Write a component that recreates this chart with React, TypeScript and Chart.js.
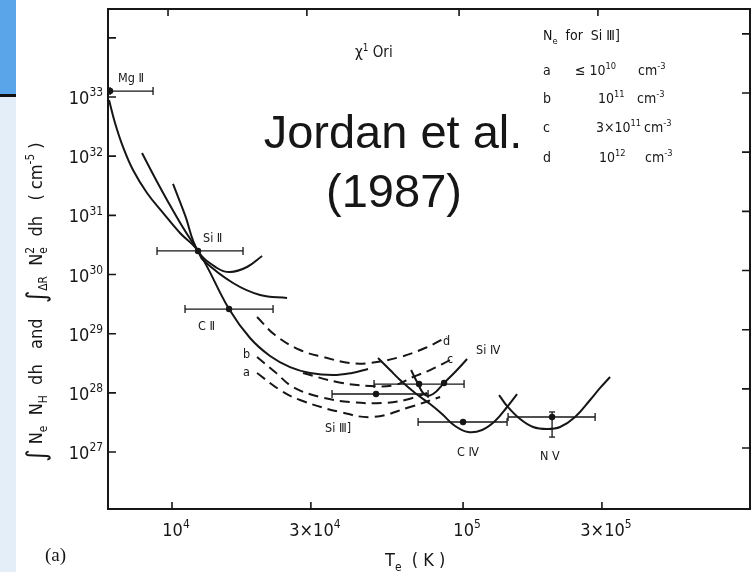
import React, { useEffect, useRef } from "react";
import { Chart, registerables } from "chart.js";

Chart.register(...registerables);

const INK = "#161616";
const FONT = '"DejaVu Sans Condensed", "DejaVu Sans", sans-serif';

// ---- axes ----
const xRange = [6026, 9.68e5];
const yRange = [1.09e26, 3.07e34];
const xTickValues = [1e4, 3e4, 1e5, 3e5];
const xTickLabels = ["10^{4}", "3×10^{4}", "10^{5}", "3×10^{5}"];
const yTickValues = [1e27, 1e28, 1e29, 1e30, 1e31, 1e32, 1e33, 1e34];
const yTickLabels = ["10^{27}", "10^{28}", "10^{29}", "10^{30}", "10^{31}", "10^{32}", "10^{33}", ""];

// ---- solid loci ----
const mainT = [6075, 6370, 6786, 7345, 8206, 9313, 10653, 12281, 15702, 18535, 21720, 25443, 29802, 35752, 41551, 47153];
const mainEM = [8.9e32, 3.64e32, 1.43e32, 5.84e31, 2.39e31, 1.1e31, 5.03e30, 2.5e30, 2.61e29, 8.45e28, 4.2e28, 2.73e28, 2.17e28, 2.0e28, 2.17e28, 2.53e28];
const broadT = [7887, 8743, 9612, 10824, 12281, 12781, 16204, 20070, 24849];
const broadEM = [1.13e32, 4.28e31, 1.82e31, 6.6e30, 2.5e30, 1.76e30, 7.19e29, 4.51e29, 4.01e29];
const narrowT = [10079, 11083, 12281, 14278, 15826, 18101, 20391];
const narrowEM = [3.39e31, 1.01e31, 2.5e30, 1.29e30, 1.1e30, 1.34e30, 2.06e30];
const siIVT = [66284, 69504, 74046, 78886, 86044, 94613, 103205];
const siIVEM = [2.43e28, 1.525e28, 9.19e27, 9.56e27, 1.467e28, 2.34e28, 3.73e28];
const cIVT = [51036, 56128, 60757, 68422, 77037, 84685, 93874, 104040, 116250, 128820, 141640, 153290];
const cIVEM = [3.88e28, 2.43e28, 1.649e28, 9.94e27, 6.48e27, 4.39e27, 2.75e27, 2.18e27, 2.36e27, 3.34e27, 5.77e27, 9.56e27];
const nVT = [132950, 141640, 157040, 174020, 194450, 215440, 242620, 273210, 295750, 320000];
const nVEM = [9.19e27, 5.99e27, 3.61e27, 2.65e27, 2.45e27, 2.65e27, 3.91e27, 7.57e27, 1.21e28, 1.853e28];

// ---- dashed Si III] loci (a..d) ----
const aT = [19596, 23506, 27536, 37782, 49057, 65766, 83368];
const aEM = [2.17e28, 1.117e28, 7.57e27, 4.75e27, 3.91e27, 5.77e27, 8.51e27];
const bT = [19596, 22594, 26052, 32262, 40897, 53109, 63210, 75232];
const bEM = [4.04e28, 2.25e28, 1.256e28, 8.51e27, 7.0e27, 6.73e27, 7.57e27, 9.94e27];
const cT = [28197, 36897, 47908, 58398, 67344, 77037, 90226];
const cEM = [2.17e28, 1.525e28, 1.305e28, 1.357e28, 1.853e28, 2.43e28, 3.59e28];
const dT = [19596, 22594, 27536, 33037, 40897, 47908, 60757, 74046, 88105];
const dEM = [1.91e29, 9.5e28, 5.3e28, 4.04e28, 3.2e28, 3.2e28, 4.04e28, 5.73e28, 8.79e28];

// ---- observed points with T ranges ----
const obsT = [6124, 12281, 15702, 50234, 70616, 86044, 100000, 202230];
const obsEM = [1.26e33, 2.5e30, 2.61e29, 9.56e27, 1.41e28, 1.467e28, 3.22e27, 3.91e27];
const barEM = [1.26e33, 2.5e30, 2.61e29, 9.56e27, 1.41e28, 3.22e27, 3.91e27];
const barLowT = [6124, 8882, 11083, 35468, 49451, 70064, 142770];
const barHighT = [8605, 17539, 22241, 75823, 100790, 141640, 284240];
const nVVertT = [202230, 202230];
const nVVertEM = [4.75e27, 1.79e27];

// ---- curve labels ----
const labelTexts = ["Mg Ⅱ", "Si Ⅱ", "C Ⅱ", "b", "a", "d", "c", "Si Ⅳ", "Si Ⅲ]", "C Ⅳ", "N Ⅴ"];
const labelT = [6523, 12781, 12281, 17539, 17539, 85376, 88105, 110840, 33560, 95370, 183950];
const labelEM = [1.79e33, 3.54e30, 1.154e29, 3.88e28, 1.927e28, 6.44e28, 3.2e28, 4.54e28, 2.18e27, 8.57e26, 7.33e26];

// ---- legend ----
const legendTitle = "N_{e}  for  Si Ⅲ]";
const legendKeys = ["a", "b", "c", "d"];
const legendDensity = ["≤ 10^{10}", "10^{11}", "3×10^{11}", "10^{12}"];
const legendUnit = "cm^{-3}";

type Seg = { t: string; m: "n" | "sup" | "sub" | "big" };

function parseRich(s: string): Seg[] {
  const out: Seg[] = [];
  let buf = "";
  let i = 0;
  while (i < s.length) {
    const c = s[i];
    if ((c === "^" || c === "_" || c === "#") && s[i + 1] === "{") {
      if (buf) {
        out.push({ t: buf, m: "n" });
        buf = "";
      }
      const end = s.indexOf("}", i + 2);
      out.push({ t: s.slice(i + 2, end), m: c === "^" ? "sup" : c === "_" ? "sub" : "big" });
      i = end + 1;
    } else {
      buf += c;
      i++;
    }
  }
  if (buf) out.push({ t: buf, m: "n" });
  return out;
}

function drawRich(
  ctx: CanvasRenderingContext2D,
  str: string,
  x: number,
  y: number,
  size: number,
  align: "left" | "center" | "right" = "left",
  family: string = FONT
) {
  const segs = parseRich(str);
  let cx = 0;
  let prev: { m: string; x: number } | null = null;
  const items: { t: string; x: number; dy: number; s: number }[] = [];
  for (const sg of segs) {
    const s = sg.m === "n" ? size : sg.m === "big" ? size * 1.45 : size * 0.66;
    const dy = sg.m === "sup" ? -size * 0.42 : sg.m === "sub" ? size * 0.27 : sg.m === "big" ? size * 0.15 : 0;
    ctx.font = `${s}px ${family}`;
    const w = ctx.measureText(sg.t).width;
    let sx = cx;
    if (sg.m === "sup" && prev && prev.m === "sub") sx = prev.x;
    items.push({ t: sg.t, x: sx, dy, s });
    cx = Math.max(cx, sx + w);
    prev = { m: sg.m, x: sx };
  }
  const off = align === "left" ? 0 : align === "center" ? -cx / 2 : -cx;
  ctx.textAlign = "left";
  ctx.textBaseline = "alphabetic";
  ctx.fillStyle = INK;
  for (const it of items) {
    ctx.font = `${it.s}px ${family}`;
    ctx.fillText(it.t, x + off + it.x, y + it.dy);
  }
}

const pts = (T: number[], EM: number[]) => T.map((t, i) => ({ x: t, y: EM[i] }));

const figurePlugin = {
  id: "figure",
  afterDraw(chart: any) {
    const { ctx, chartArea } = chart;
    const { left, top, right, bottom } = chartArea;
    const xs = chart.scales.x;
    const ys = chart.scales.y;
    ctx.save();
    // frame
    ctx.strokeStyle = INK;
    ctx.lineWidth = 2;
    ctx.strokeRect(left, top, right - left, bottom - top);
    // inward ticks
    ctx.lineWidth = 1.6;
    ctx.beginPath();
    ys.ticks.forEach((tk: any) => {
      const py = ys.getPixelForValue(tk.value);
      ctx.moveTo(left, py);
      ctx.lineTo(left + 8, py);
      ctx.moveTo(right, py - 4);
      ctx.lineTo(right - 8, py - 4);
    });
    xs.ticks.forEach((tk: any) => {
      const px = xs.getPixelForValue(tk.value);
      ctx.moveTo(px, bottom);
      ctx.lineTo(px, bottom - 7);
      ctx.moveTo(px - 4, top);
      ctx.lineTo(px - 4, top + 7);
    });
    ctx.stroke();
    // tick labels
    ys.ticks.forEach((tk: any) => {
      const py = ys.getPixelForValue(tk.value);
      const lab = yTickLabels[yTickValues.indexOf(tk.value)] ?? "";
      if (lab) drawRich(ctx, lab, left - 5, py + 7, 18, "right");
    });
    xs.ticks.forEach((tk: any) => {
      const px = xs.getPixelForValue(tk.value);
      const lab = xTickLabels[xTickValues.indexOf(tk.value)] ?? "";
      if (lab) drawRich(ctx, lab, px + 4, bottom + 27, 18, "center");
    });
    // curve labels
    labelTexts.forEach((t, i) => {
      drawRich(ctx, t, xs.getPixelForValue(labelT[i]), ys.getPixelForValue(labelEM[i]), 12.5, "left");
    });
    // axis titles
    drawRich(ctx, "T_{e}  ( K )", 385, 566, 18, "left");
    ctx.save();
    ctx.translate(42, 302);
    ctx.rotate(-Math.PI / 2);
    drawRich(
      ctx,
      "#{∫} N_{e}  N_{H}  dh   and   #{∫}_{ΔR}  N_{e}^{2}  dh   ( cm^{-5} )",
      0,
      0,
      18,
      "center"
    );
    ctx.restore();
    // panel tag
    drawRich(ctx, "(a)", 45, 561, 19, "left", '"Liberation Serif", "DejaVu Serif", serif');
    // star name
    drawRich(ctx, "χ^{1} Ori", 355, 57, 15, "left");
    // legend
    drawRich(ctx, legendTitle, 543, 40, 14, "left");
    const rowY = [75, 103, 132, 162];
    const densX = [575, 598, 596, 599];
    const unitX = [638, 637, 644, 645];
    legendKeys.forEach((k, i) => {
      drawRich(ctx, k, 543, rowY[i], 14, "left");
      drawRich(ctx, legendDensity[i], densX[i], rowY[i], 14, "left");
      drawRich(ctx, legendUnit, unitX[i], rowY[i], 14, "left");
    });
    // overlay citation
    drawRich(ctx, "Jordan et al.", 393, 148, 47, "center", '"Liberation Sans", Arial, sans-serif');
    drawRich(ctx, "(1987)", 394, 207, 47, "center", '"Liberation Sans", Arial, sans-serif');
    ctx.restore();
  },
};

export default function App() {
  const ref = useRef<HTMLCanvasElement | null>(null);
  useEffect(() => {
    if (!ref.current) return;
    const curve = (T: number[], EM: number[], dashed: boolean) => ({
      data: pts(T, EM),
      showLine: true,
      borderColor: INK,
      borderWidth: 2,
      borderDash: dashed ? [10, 6] : [],
      pointRadius: 0,
      tension: 0.4,
      fill: false,
    });
    const bars = barEM.map((em, i) => ({
      data: [
        { x: barLowT[i], y: em },
        { x: barHighT[i], y: em },
      ],
      showLine: true,
      borderColor: INK,
      borderWidth: 1.3,
      pointStyle: "line",
      rotation: 90,
      pointRadius: 4,
      pointBorderColor: INK,
      pointBorderWidth: 1.3,
      tension: 0,
    }));
    const vbar = {
      data: pts(nVVertT, nVVertEM),
      showLine: true,
      borderColor: INK,
      borderWidth: 1.3,
      pointStyle: "line",
      rotation: 0,
      pointRadius: 3,
      pointBorderColor: INK,
      pointBorderWidth: 1.3,
      tension: 0,
    };
    const dots = {
      data: pts(obsT, obsEM),
      showLine: false,
      pointRadius: 3.2,
      pointBackgroundColor: INK,
      pointBorderColor: INK,
      pointBorderWidth: 0,
    };
    const chart = new Chart(ref.current, {
      type: "scatter",
      data: {
        datasets: [
          curve(mainT, mainEM, false),
          curve(broadT, broadEM, false),
          curve(narrowT, narrowEM, false),
          curve(siIVT, siIVEM, false),
          curve(cIVT, cIVEM, false),
          curve(nVT, nVEM, false),
          curve(aT, aEM, true),
          curve(bT, bEM, true),
          curve(cT, cEM, true),
          curve(dT, dEM, true),
          ...bars,
          vbar,
          dots,
        ] as any,
      },
      options: {
        animation: false,
        responsive: false,
        devicePixelRatio: 1,
        events: [],
        layout: { padding: { top: 9, right: 6, left: 0, bottom: 0 } },
        plugins: { legend: { display: false }, tooltip: { enabled: false } },
        scales: {
          x: {
            type: "logarithmic",
            min: xRange[0],
            max: xRange[1],
            grid: { display: false },
            border: { display: false },
            ticks: { display: false },
            afterBuildTicks: (s: any) => {
              s.ticks = xTickValues.map((v) => ({ value: v }));
            },
            afterFit: (s: any) => {
              s.height = 63;
            },
          },
          y: {
            type: "logarithmic",
            min: yRange[0],
            max: yRange[1],
            grid: { display: false },
            border: { display: false },
            ticks: { display: false },
            afterBuildTicks: (s: any) => {
              s.ticks = yTickValues.map((v) => ({ value: v }));
            },
            afterFit: (s: any) => {
              s.width = 108;
            },
          },
        },
      } as any,
      plugins: [figurePlugin],
    });
    return () => chart.destroy();
  }, []);

  return (
    <div style={{ position: "fixed", left: 0, top: 0, width: 756, height: 572, background: "#fff", overflow: "hidden" }}>
      <div style={{ position: "absolute", left: 0, top: 0, width: 16, height: 94, background: "#5AA5EA" }} />
      <div style={{ position: "absolute", left: 0, top: 94, width: 16, height: 3, background: "#111" }} />
      <div style={{ position: "absolute", left: 0, top: 97, width: 16, height: 475, background: "#E3EEF8" }} />
      <canvas ref={ref} width={756} height={572} style={{ position: "absolute", left: 0, top: 0, display: "block" }} />
    </div>
  );
}
